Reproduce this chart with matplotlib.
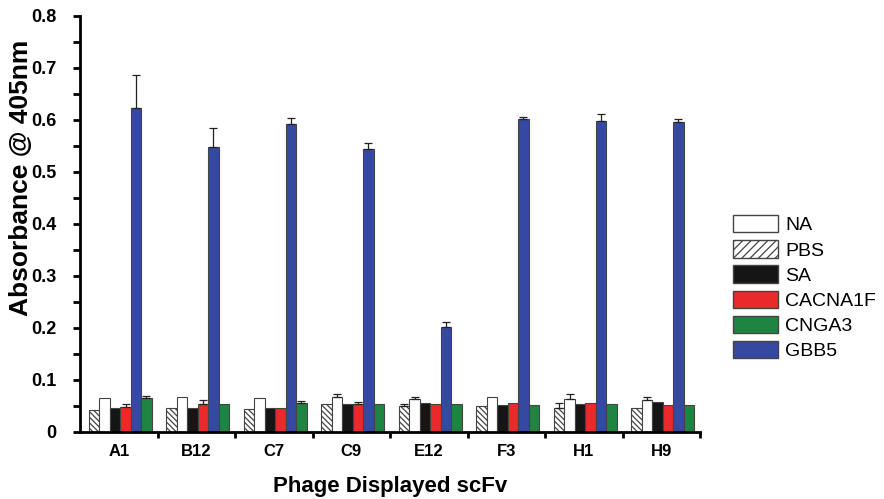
import matplotlib
matplotlib.use("Agg")
from matplotlib import pyplot as plt
from matplotlib.patches import Patch
from matplotlib.ticker import MultipleLocator
import numpy as np

plt.rcParams['font.family'] = ['Liberation Sans', 'DejaVu Sans']
plt.rcParams['hatch.linewidth'] = 0.9

clones = ['A1', 'B12', 'C7', 'C9', 'E12', 'F3', 'H1', 'H9']

# mean absorbance per target, per clone
pbs     = [0.042, 0.047, 0.045, 0.053, 0.050, 0.050, 0.047, 0.047]
na      = [0.065, 0.067, 0.065, 0.068, 0.063, 0.067, 0.063, 0.062]
sa      = [0.047, 0.047, 0.047, 0.054, 0.056, 0.052, 0.054, 0.058]
cacna1f = [0.049, 0.053, 0.047, 0.053, 0.054, 0.055, 0.055, 0.052]
gbb5    = [0.624, 0.549, 0.593, 0.545, 0.202, 0.602, 0.598, 0.596]
cnga3   = [0.065, 0.054, 0.055, 0.053, 0.053, 0.052, 0.054, 0.052]

# upper error bar lengths
pbs_err     = [0.0, 0.0, 0.0, 0.0, 0.004, 0.0, 0.008, 0.0]
na_err      = [0.0, 0.0, 0.0, 0.005, 0.004, 0.0, 0.010, 0.005]
sa_err      = [0.0, 0.0, 0.0, 0.0, 0.0, 0.0, 0.0, 0.0]
cacna1f_err = [0.005, 0.008, 0.0, 0.005, 0.0, 0.0, 0.0, 0.0]
gbb5_err    = [0.063, 0.036, 0.010, 0.011, 0.009, 0.003, 0.013, 0.005]
cnga3_err   = [0.004, 0.0, 0.004, 0.0, 0.0, 0.0, 0.0, 0.0]

series = [
    ('PBS', pbs, pbs_err, 'white', '\\\\\\\\\\\\'),
    ('NA', na, na_err, 'white', None),
    ('SA', sa, sa_err, '#151515', None),
    ('CACNA1F', cacna1f, cacna1f_err, '#ea2a2a', None),
    ('GBB5', gbb5, gbb5_err, '#3549a3', None),
    ('CNGA3', cnga3, cnga3_err, '#1f8342', None),
]

fig = plt.figure(figsize=(8.84, 4.99), dpi=100)
ax = fig.add_axes([80/884, 67/499, 620/884, 416/499])

x = np.arange(len(clones))
w = 0.135
for i, (name, vals, errs, col, hatch) in enumerate(series):
    pos = x - 2.5 * w + i * w + 0.02
    errs = np.array(errs)
    ax.bar(pos, vals, width=w, color=col, edgecolor='#444444', linewidth=0.8,
           hatch=hatch, zorder=2)
    mask = errs > 0
    ax.errorbar(pos[mask], np.array(vals)[mask],
                yerr=[np.zeros(mask.sum()), errs[mask]],
                fmt='none', ecolor='#222222', elinewidth=0.9, capsize=3,
                capthick=0.9, zorder=3)

ax.set_xlim(-0.5, len(clones) - 0.5)
ax.set_ylim(0, 0.8)
ax.set_xticks(x)
ax.set_xticklabels(clones, fontsize=12, fontweight='bold')
ax.set_xticks(np.arange(0.5, len(clones) - 0.4, 1), minor=True)
ax.tick_params(axis='x', which='major', length=0, pad=9)
ax.tick_params(axis='x', which='minor', length=4, width=2, direction='out')
ax.yaxis.set_major_locator(MultipleLocator(0.1))
ax.yaxis.set_minor_locator(MultipleLocator(0.05))
ax.set_yticks(np.arange(0, 0.81, 0.1))
ax.set_yticklabels(['0'] + [f'{v:.1f}' for v in np.arange(0.1, 0.81, 0.1)],
                   fontsize=13, fontweight='bold')
ax.tick_params(axis='y', which='both', length=5, width=2, direction='out', pad=12)

for s in ['top', 'right']:
    ax.spines[s].set_visible(False)
for s in ['left', 'bottom']:
    ax.spines[s].set_linewidth(2)

ax.set_ylabel('Absorbance @ 405nm', fontsize=19, fontweight='bold')
ax.yaxis.set_label_coords(-0.076, 0.61)
ax.set_xlabel('Phage Displayed scFv', fontsize=16, fontweight='bold', labelpad=12)

handles = [
    Patch(facecolor='white', edgecolor='#444444', label='NA'),
    Patch(facecolor='white', edgecolor='#444444', hatch='////', label='PBS'),
    Patch(facecolor='#151515', edgecolor='#444444', label='SA'),
    Patch(facecolor='#ea2a2a', edgecolor='#444444', label='CACNA1F'),
    Patch(facecolor='#1f8342', edgecolor='#444444', label='CNGA3'),
    Patch(facecolor='#3549a3', edgecolor='#444444', label='GBB5'),
]
fig.legend(handles=handles, loc='upper left', bbox_to_anchor=(733/884, 1 - 215/499),
           frameon=False, fontsize=14, handlelength=2.3, handleheight=1.0,
           labelspacing=0.3, handletextpad=0.4, borderpad=0, borderaxespad=0)

plt.savefig('out.png', dpi=100)
